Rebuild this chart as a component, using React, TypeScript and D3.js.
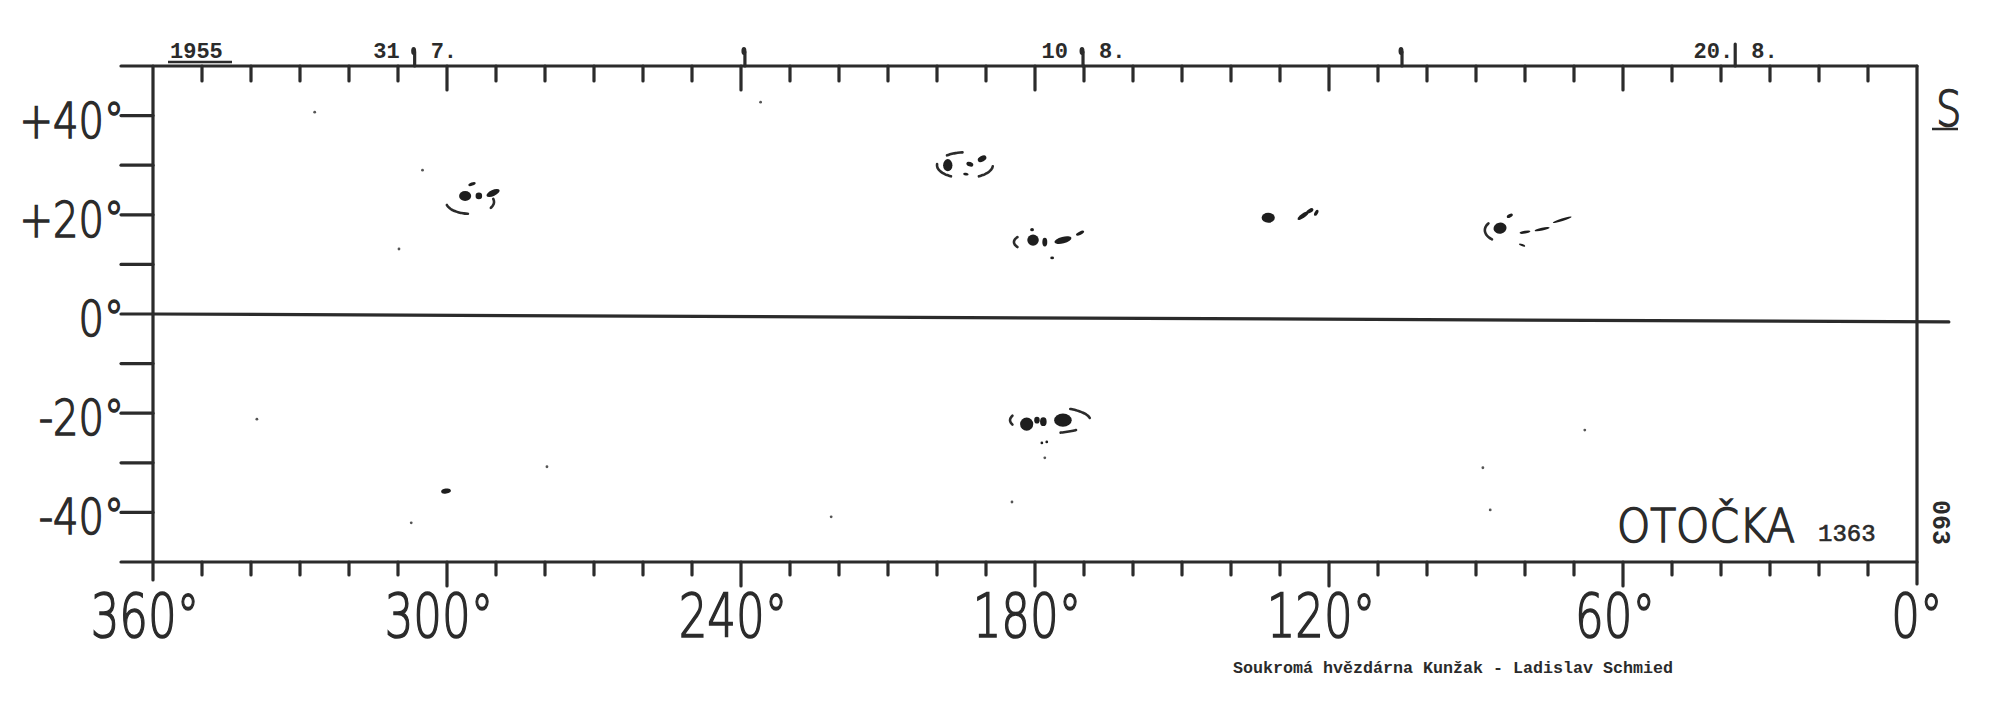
import * as d3 from 'd3'

// synoptic sunspot map, Carrington rotation 1363 (1955)
const lonLabels = [360, 300, 240, 180, 120, 60, 0]
const latTicks = [40, 30, 20, 10, 0, -10, -20, -30, -40]
const latLabels = [
  { lat: 40, text: '+40°' },
  { lat: 20, text: '+20°' },
  { lat: 0, text: '0°' },
  { lat: -20, text: '-20°' },
  { lat: -40, text: '-40°' },
]

// day markers along the top edge (lon where the central meridian passed)
const dayMarks = [
  { lon: 306.6, day: '31', month: '7.' },
  { lon: 239.2, day: '', month: '' },
  { lon: 170.2, day: '10', month: '8.' },
  { lon: 105.1, day: '', month: '' },
  { lon: 37.1, day: '20.', month: '8.' },
]

// equator as drawn (slightly skewed on the sheet)
const equator: [number, number][] = [
  [360, 0],
  [-6.5, -1.6],
]

// umbrae / spots: lon, lat, rx (deg), ry (deg), rotation
const spots: [number, number, number, number, number][] = [
  [296.3, 23.8, 1.1, 0.9, 0],
  [293.5, 23.8, 0.6, 0.6, 0],
  [290.6, 24.4, 1.3, 0.55, -25],
  [294.9, 26.2, 0.7, 0.3, -20],
  [197.8, 30.0, 0.85, 1.1, 0],
  [193.3, 30.2, 0.65, 0.4, 20],
  [190.8, 31.3, 0.85, 0.5, -30],
  [194.1, 28.2, 0.5, 0.25, 10],
  [180.4, 14.9, 1.05, 1.0, 0],
  [178.0, 14.5, 0.45, 0.8, 0],
  [174.3, 14.9, 1.6, 0.6, -15],
  [170.8, 16.3, 0.8, 0.3, -25],
  [180.6, 17.0, 0.35, 0.3, 0],
  [176.5, 11.3, 0.35, 0.25, 0],
  [132.4, 19.4, 1.2, 0.9, 0],
  [125.3, 19.8, 1.2, 0.4, -35],
  [123.9, 20.8, 0.7, 0.35, -30],
  [122.6, 20.4, 0.6, 0.3, -60],
  [85.1, 17.3, 1.2, 1.0, -10],
  [83.1, 19.8, 0.6, 0.3, -30],
  [80.0, 16.5, 1.0, 0.25, -10],
  [76.5, 17.1, 1.4, 0.25, -12],
  [72.4, 19.0, 1.8, 0.25, -18],
  [80.6, 13.9, 0.6, 0.2, 20],
  [181.7, -22.2, 1.2, 1.2, 0],
  [179.6, -21.4, 0.5, 0.6, 0],
  [178.3, -21.7, 0.6, 0.8, 0],
  [174.3, -21.4, 1.6, 1.2, 0],
  [178.6, -26.0, 0.25, 0.25, 0],
  [177.6, -25.8, 0.25, 0.25, 0],
  [300.2, -35.7, 0.9, 0.45, -10],
]

// penumbra outlines: lon, lat, rx, ry (deg), arc from t0 to t1 (deg)
const penumbrae: [number, number, number, number, number, number][] = [
  [295.3, 22.6, 4.9, 2.4, 95, 165],
  [295.3, 22.6, 4.9, 2.4, -15, 30],
  [194.3, 30.0, 5.7, 2.6, 120, 185],
  [194.3, 30.0, 5.7, 2.6, 230, 265],
  [194.3, 30.0, 5.7, 2.6, 5, 60],
  [179.0, 14.5, 5.3, 2.0, 150, 210],
  [84.1, 16.9, 4.1, 2.4, 130, 215],
  [176.9, -21.4, 8.2, 2.6, 160, 200],
  [176.9, -21.4, 8.2, 2.6, -60, -10],
  [176.9, -21.4, 8.2, 2.6, 50, 75],
]

// tiny pores
const pores: [number, number][] = [
  [309.8, 13.1],
  [307.3, -42.1],
  [67.8, -23.4],
  [88.6, -31.0],
  [87.1, -39.5],
  [178.0, -29.0],
  [184.7, -37.9],
  [221.6, -40.9],
  [338.8, -21.2],
  [279.6, -30.8],
  [327.0, 40.7],
  [305.0, 29.0],
  [236.0, 42.7],
]

const INK = '#2b2b2b'
const THIN = "'DejaVu Sans', sans-serif"
const TYPE = "'Liberation Mono', 'DejaVu Sans Mono', monospace"

export default function App() {
  const x = d3.scaleLinear().domain([360, 0]).range([153, 1917])
  const y = d3.scaleLinear().domain([50, -50]).range([66, 562])
  const top = y(50)
  const bottom = y(-50)
  const left = x(360)
  const right = x(0)
  const kx = (x(0) - x(1)) * 1.12
  const ky = (y(0) - y(1)) * 1.12
  const lonTicks = d3.range(10, 360, 10)

  const arcLine = d3
    .line<[number, number]>()
    .x((d) => d[0])
    .y((d) => d[1])
    .curve(d3.curveBasis)

  const eqLine = d3
    .line<[number, number]>()
    .x((d) => x(d[0]))
    .y((d) => y(d[1]))

  return (
    <div style={{ position: 'absolute', left: 0, top: 0 }}>
      <svg width={2000} height={711} style={{ display: 'block', background: '#fff' }}>
        {/* frame */}
        <g stroke={INK} strokeWidth={3.2} strokeLinecap="round" fill="none">
          <line x1={121} x2={right} y1={top} y2={top} />
          <line x1={121} x2={right} y1={bottom} y2={bottom} />
          <line x1={left} x2={left} y1={top} y2={bottom + 18} />
          <line x1={right} x2={right} y1={top} y2={bottom + 22} />
          <path d={eqLine(equator) ?? ''} />
          {lonTicks.map((l) => (
            <line key={'t' + l} x1={x(l)} x2={x(l)} y1={top} y2={top + (l % 60 === 0 ? 24 : 15)} />
          ))}
          {lonTicks.map((l) => (
            <line key={'b' + l} x1={x(l)} x2={x(l)} y1={bottom} y2={bottom + (l % 60 === 0 ? 24 : 13)} />
          ))}
          {latTicks.map((l) => (
            <line key={'l' + l} x1={121} x2={left} y1={y(l)} y2={y(l)} />
          ))}
          {dayMarks.map((m) => (
            <line key={'m' + m.lon} x1={x(m.lon)} x2={x(m.lon)} y1={top} y2={top - (m.day === '20.' ? 22 : 14)} />
          ))}
        </g>
        {dayMarks.map((m) =>
          m.day === '20.' ? null : (
            <ellipse key={'h' + m.lon} cx={x(m.lon) - 1} cy={top - 15} rx={2.5} ry={4} fill={INK} />
          ),
        )}

        {/* day labels */}
        <g fontFamily={TYPE} fontWeight="bold" fontSize={22} fill={INK}>
          <text x={170} y={58}>1955</text>
          <line x1={168} x2={232} y1={62} y2={62} stroke={INK} strokeWidth={2.5} />
          {dayMarks
            .filter((m) => m.day)
            .map((m) => (
              <g key={'d' + m.lon}>
                <text x={x(m.lon) - (m.day === '20.' ? 2 : 15)} y={58} textAnchor="end">
                  {m.day}
                </text>
                <text x={x(m.lon) + 16} y={58}>
                  {m.month}
                </text>
              </g>
            ))}
        </g>

        {/* axis labels */}
        <g fontFamily={THIN} fontWeight={200} fill={INK} stroke={INK} strokeWidth={1.6}>
          {lonLabels.map((l) => (
            <text
              key={'xl' + l}
              transform={`translate(${x(l) - (l === 0 ? 0 : 8)},637) scale(0.74,1)`}
              textAnchor="middle"
              fontSize={61}
            >
              {l}°
            </text>
          ))}
          {latLabels.map((d) => (
            <text
              key={'yl' + d.lat}
              transform={`translate(124,${y(d.lat) + 22}) scale(0.8,1)`}
              textAnchor="end"
              fontSize={50}
            >
              {d.text}
            </text>
          ))}
          <text transform="translate(1936,126) scale(0.8,1)" fontSize={50}>
            S
          </text>
          <text transform="translate(1617,542) scale(0.9,1)" fontSize={47}>
            OTOČKA
          </text>
        </g>
        <line x1={1932} x2={1958} y1={129} y2={129} stroke={INK} strokeWidth={2.5} />
        <text x={1818} y={541} fontFamily={TYPE} fontSize={24} fill={INK} stroke={INK} strokeWidth={0.6}>
          1363
        </text>
        <text
          transform="translate(1933,500) rotate(90)"
          fontFamily={TYPE}
          fontWeight="bold"
          fontSize={25}
          fill={INK}
        >
          063
        </text>
        <text
          x={1233}
          y={673}
          textLength={440}
          lengthAdjust="spacingAndGlyphs"
          fontFamily={TYPE}
          fontWeight="bold"
          fontSize={17}
          fill={INK}
        >
          Soukromá hvězdárna Kunžak - Ladislav Schmied
        </text>

        {/* penumbrae */}
        <g fill="none" stroke={INK} strokeWidth={2.6} strokeLinecap="round">
          {penumbrae.map((p, i) => {
            const cx = x(p[0])
            const cy = y(p[1])
            const pts = d3
              .range(p[4], p[5] + 0.1, 5)
              .map((t) => [
                cx + p[2] * (x(0) - x(1)) * Math.cos((t * Math.PI) / 180),
                cy + p[3] * (y(0) - y(1)) * Math.sin((t * Math.PI) / 180),
              ]) as [number, number][]
            return <path key={'p' + i} d={arcLine(pts) ?? ''} />
          })}
        </g>

        {/* spots */}
        <g fill="#1e1e1e">
          {spots.map((s, i) => (
            <ellipse
              key={'s' + i}
              transform={`translate(${x(s[0])},${y(s[1])}) rotate(${s[4]})`}
              rx={s[2] * kx}
              ry={s[3] * ky}
            />
          ))}
          {pores.map((p, i) => (
            <circle key={'o' + i} cx={x(p[0])} cy={y(p[1])} r={1.4} fill="#555" />
          ))}
        </g>
      </svg>
    </div>
  )
}
